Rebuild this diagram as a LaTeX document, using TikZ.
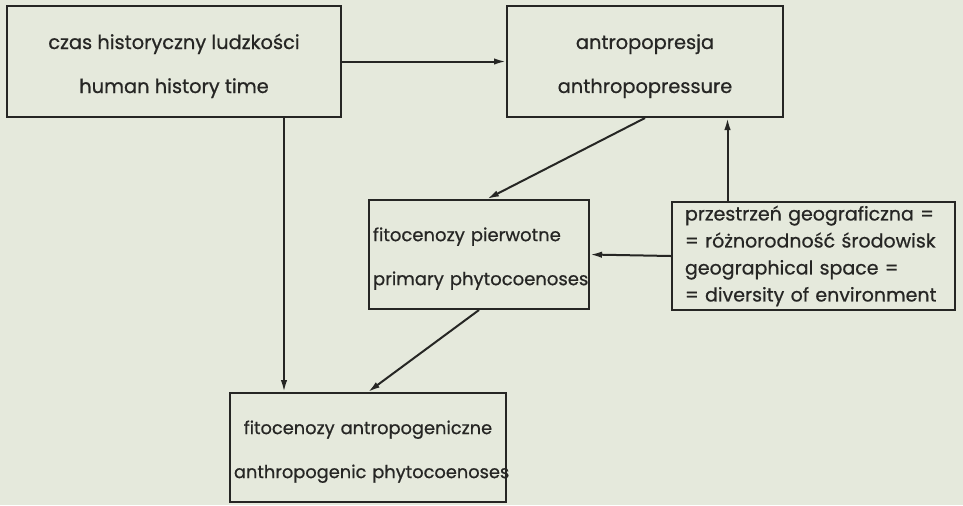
\documentclass[tikz,border=0pt]{standalone}
\usepackage{fontspec}
\setmainfont{Poppins}[FakeBold=0.7]
\usetikzlibrary{positioning,arrows.meta}
\definecolor{paper}{RGB}{229,233,220}
\definecolor{ink}{RGB}{38,38,36}

\begin{document}
\begin{tikzpicture}[
  x=0.5pt, y=-0.5pt,
  every text node part/.style={align=center},
  box/.style={draw=ink, line width=1pt, rectangle, minimum height=55.5pt, text=ink, font=\fontsize{9.7}{22}\selectfont, inner sep=2pt},
  leftbox/.style={box, every text node part/.style={align=left}},
  arr/.style={-{Latex[length=6pt,width=3.2pt]}, draw=ink, line width=1pt}
]
  \fill[paper] (0,0) rectangle (963,505);

  \node[box, minimum width=167pt] (czas) at (174,61.5) {\rule{0pt}{12pt}czas historyczny ludzkości\\human history time};
  \node[box, minimum width=138pt] (presja) at (645,61.5) {\rule{0pt}{12pt}antropopresja\\anthropopressure};
  \node[leftbox, minimum height=54.5pt, text width=106pt, inner xsep=2pt, font=\fontsize{9}{22}\selectfont] (pierw) at (479,254.5) {\rule{0pt}{11pt}\mbox{fitocenozy pierwotne}\\\mbox{primary phytocoenoses}};
  \node[leftbox, minimum height=54pt, text width=128.5pt, inner xsep=6.5pt, font=\fontsize{9.5}{13.5}\selectfont] (geo) at (813.5,256) {przestrzeń geograficzna =\\= różnorodność środowisk\\geographical space =\\= diversity of environment};
  \node[box, minimum height=54.5pt, text width=134pt, inner xsep=2pt, font=\fontsize{8.9}{22}\selectfont] (antrop) at (368,447.5) {\rule{0pt}{11pt}\mbox{fitocenozy antropogeniczne}\\\mbox{anthropogenic phytocoenoses}};

  \draw[arr] (czas) -- (presja);
  \draw[arr] ([xshift=55pt]czas.south) -- ([xshift=55pt]czas.south |- antrop.north);
  \draw[arr] (presja.south) -- ([xshift=4pt]pierw.north);
  \draw[arr] ([xshift=-43pt]geo.north) -- ([xshift=-43pt]geo.north |- presja.south);
  \draw[arr] (geo.west) -- (pierw.east);
  \draw[arr] (pierw.south) -- (antrop.north);
\end{tikzpicture}
\end{document}
